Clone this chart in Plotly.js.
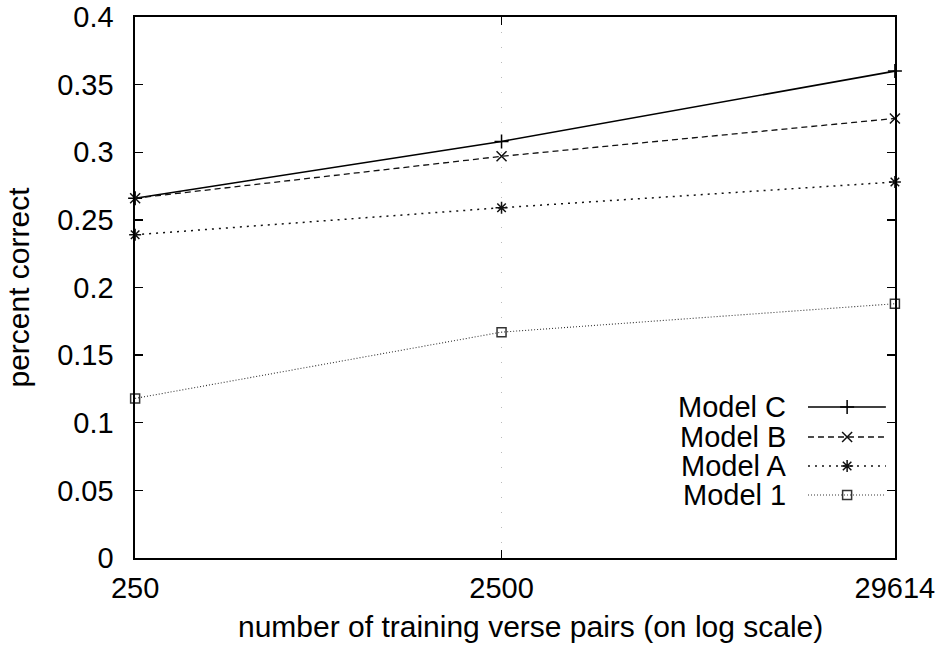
<!DOCTYPE html>
<html>
<head>
<meta charset="utf-8">
<script src="https://cdn.plot.ly/plotly-3.0.1.min.js"></script>
<style>html,body{margin:0;padding:0;background:#fff;}#chart{width:940px;height:650px;}</style>
</head>
<body>
<div id="chart"></div>
<script>
// ---- data ----
const trainingPairs = [250, 2500, 29614];
const tickLabels = ["250", "2500", "29614"];
const seriesNames = ["Model C", "Model B", "Model A", "Model 1"];
const modelC = [0.266, 0.308, 0.360];
const modelB = [0.266, 0.297, 0.325];
const modelA = [0.239, 0.259, 0.278];
const model1 = [0.118, 0.167, 0.188];
const yTicks = [0, 0.05, 0.1, 0.15, 0.2, 0.25, 0.3, 0.35, 0.4];
const xTitle = "number of training verse pairs (on log scale)";
const yTitle = "percent correct";

// ---- styles ----
const FONT = "Liberation Sans, Arial, Helvetica, sans-serif";
const TICK_SIZE = 29;
const TITLE_SIZE = 30;
const styles = [
  {dash: "solid", symbol: "cross-thin-open", size: 10, width: 1.6, color: "#000"},
  {dash: "6px,4px", symbol: "x-thin-open", size: 10, width: 1.3, color: "#111"},
  {dash: "2px,5px", symbol: "asterisk-open", size: 10, width: 1.5, color: "#111"},
  {dash: "1px,2px", symbol: "square-open", size: 9, width: 1.1, color: "#333"}
];
const allSeries = [modelC, modelB, modelA, model1];

const traces = allSeries.map((vals, i) => ({
  type: "scatter", mode: "lines+markers", name: seriesNames[i],
  x: trainingPairs, y: vals, showlegend: false, cliponaxis: false,
  line: {color: styles[i].color, width: styles[i].width, dash: styles[i].dash},
  marker: {symbol: styles[i].symbol, size: styles[i].size, color: styles[i].color,
           line: {color: "#000", width: 1.5}}
}));

// legend samples (gnuplot style: text right-aligned, sample to its right)
const legendRowsY = [0.279, 0.2237, 0.170, 0.1165];
const legendLineX = [0.8855, 0.988];
const legendMarkX = 0.937;
const legendTextX = 0.859;
legendRowsY.forEach((ly, i) => {
  traces.push({
    type: "scatter", mode: "lines", x: legendLineX, y: [ly, ly], xaxis: "x2", yaxis: "y2",
    showlegend: false, hoverinfo: "skip",
    line: {color: styles[i].color, width: styles[i].width, dash: styles[i].dash}
  });
  traces.push({
    type: "scatter", mode: "markers", x: [legendMarkX], y: [ly], xaxis: "x2", yaxis: "y2",
    showlegend: false, hoverinfo: "skip",
    marker: {symbol: styles[i].symbol, size: styles[i].size, color: styles[i].color,
             line: {color: "#000", width: 1.5}}
  });
});

const annotations = seriesNames.map((n, i) => ({
  xref: "paper", yref: "paper", x: legendTextX, y: legendRowsY[i],
  xanchor: "right", yanchor: "middle", text: n, showarrow: false,
  font: {family: FONT, size: TICK_SIZE, color: "#000"}
}));
// x-axis title (gnuplot centres it on the canvas rather than the plot area)
annotations.push({
  xref: "paper", yref: "paper", x: 0.521, y: -0.1275,
  xanchor: "center", yanchor: "middle", text: xTitle, showarrow: false,
  font: {family: FONT, size: TITLE_SIZE, color: "#000"}
});

const layout = {
  width: 940, height: 650,
  margin: {l: 135, r: 45, t: 17, b: 92},
  paper_bgcolor: "#fff", plot_bgcolor: "#fff",
  font: {family: FONT, size: TICK_SIZE, color: "#000"},
  showlegend: false,
  xaxis: {
    type: "log", range: [Math.log10(249.8), Math.log10(29630)],
    tickvals: trainingPairs, ticktext: tickLabels,
    ticks: "inside", ticklen: 8, tickwidth: 1.3, tickcolor: "#000",
    showline: true, linecolor: "#000", linewidth: 1.6, mirror: "ticks",
    showgrid: true, gridcolor: "#bbb", griddash: "1px,14px", gridwidth: 1,
    zeroline: false, ticklabelstandoff: 4,
    tickfont: {family: FONT, size: TICK_SIZE, color: "#000"}
  },
  yaxis: {
    range: [0, 0.4], tickvals: yTicks,
    ticks: "inside", ticklen: 8, tickwidth: 1.3, tickcolor: "#000",
    showline: true, linecolor: "#000", linewidth: 1.6, mirror: "ticks",
    showgrid: false, zeroline: false, ticklabelstandoff: 14,
    tickfont: {family: FONT, size: TICK_SIZE, color: "#000"},
    title: {text: yTitle, standoff: 18,
            font: {family: FONT, size: TITLE_SIZE, color: "#000"}}
  },
  xaxis2: {overlaying: "x", range: [0, 1], visible: false, fixedrange: true},
  yaxis2: {overlaying: "y", range: [0, 1], visible: false, fixedrange: true},
  annotations: annotations
};

Plotly.newPlot("chart", traces, layout, {displayModeBar: false, staticPlot: true});
</script>
</body>
</html>
